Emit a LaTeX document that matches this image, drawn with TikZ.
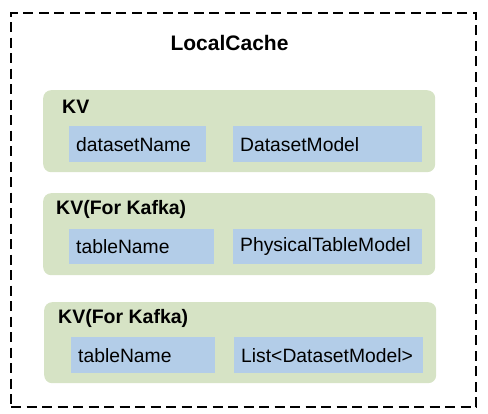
\documentclass[tikz,border=0pt]{standalone}
\usepackage{fontspec}
\setmainfont{Liberation Sans}
\definecolor{kvgreen}{HTML}{D6E3C5}
\definecolor{kvblue}{HTML}{B3CDE8}
\tikzset{
  greenbox/.style={fill=kvgreen, draw=none, rounded corners=8pt, anchor=north west, minimum width=392pt, minimum height=82pt, inner sep=0pt},
  bluebox/.style={fill=kvblue, draw=none, anchor=north west, minimum height=36pt, inner xsep=7pt, inner ysep=0pt, align=left, font=\fontsize{19.3}{22}\selectfont},
  kvtitle/.style={anchor=west, inner sep=0pt, font=\bfseries\fontsize{19.5}{23}\selectfont},
  outer/.style={draw=black, line width=2.2pt, dash pattern=on 10pt off 5.5pt, anchor=north west, minimum width=465pt, minimum height=394pt, inner sep=0pt}
}
\begin{document}
\begin{tikzpicture}[x=1pt,y=-1pt]
\useasboundingbox (0,0) rectangle (488,414);
\node[outer] (border) at (10,12) {};
\node[anchor=base, inner sep=0pt, font=\bfseries\fontsize{21}{25}\selectfont] (title) at (229.5,51) {LocalCache};
% box 1
\node[greenbox] (g1) at (43,90) {};
\node[kvtitle] (t1) at (62,107) {KV};
\node[bluebox, text width=123pt] (k1) at (69,126) {datasetName};
\node[bluebox, text width=175pt] (v1) at (233,126) {DatasetModel};
% box 2
\node[greenbox] (g2) at (43,193) {};
\node[kvtitle] (t2) at (56,209) {KV(For Kafka)};
\node[bluebox, text width=131pt, minimum height=35pt] (k2) at (69,229) {tableName};
\node[bluebox, text width=175pt, minimum height=35pt] (v2) at (233,229) {PhysicalTableModel};
% box 3
\node[greenbox, minimum height=81pt] (g3) at (44,302) {};
\node[kvtitle] (t3) at (58,318) {KV(For Kafka)};
\node[bluebox, text width=130pt] (k3) at (71,337) {tableName};
\node[bluebox, text width=175pt] (v3) at (234,337) {List<DatasetModel>};
\end{tikzpicture}
\end{document}
